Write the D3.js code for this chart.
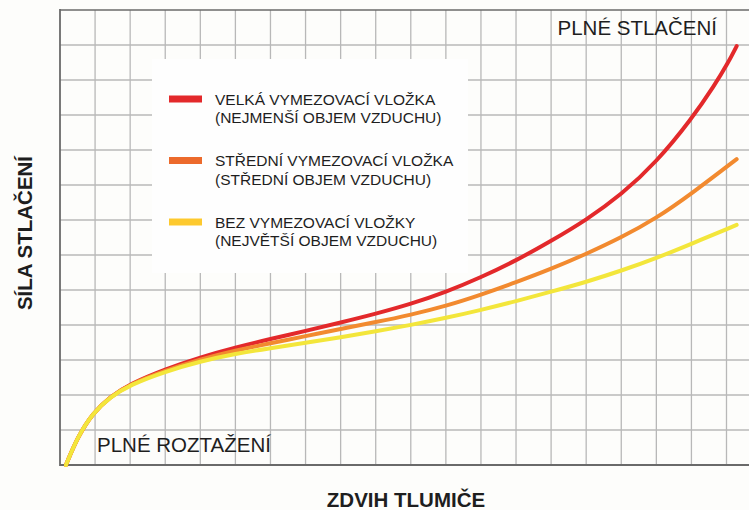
<!DOCTYPE html>
<html>
<head>
<meta charset="utf-8">
<script src="https://cdn.jsdelivr.net/npm/d3@7"></script>
<style>
  html, body { margin: 0; padding: 0; background: #fdfdfb; }
  svg { display: block; }
  text { font-family: "Liberation Sans", Arial, sans-serif; fill: #1e1e1e; }
</style>
</head>
<body>
<svg id="chart" width="749" height="510"></svg>
<script>
// ---- data (grid units: x = stroke, y = force) ----
const seriesNames = ["VELKÁ VYMEZOVACÍ VLOŽKA", "STŘEDNÍ VYMEZOVACÍ VLOŽKA", "BEZ VYMEZOVACÍ VLOŽKY"];
const seriesSubs = ["(NEJMENŠÍ OBJEM VZDUCHU)", "(STŘEDNÍ OBJEM VZDUCHU)", "(NEJVĚTŠÍ OBJEM VZDUCHU)"];

const redX    = [0.17, 0.5, 0.94, 1.43, 2, 3, 4, 5, 6, 7, 8, 9, 10, 11, 12, 13, 14, 15, 16, 17, 18, 18.66, 19.05, 19.29];
const redY    = [0, 0.8, 1.49, 1.95, 2.32, 2.74, 3.08, 3.36, 3.6, 3.83, 4.07, 4.32, 4.6, 4.94, 5.36, 5.84, 6.4, 7.0, 7.72, 8.65, 9.88, 10.85, 11.5, 11.97];

const orangeX = [0.17, 0.5, 0.94, 1.43, 2, 3, 4, 5, 6, 7, 8, 9, 10, 11, 12, 13, 14, 15, 16, 17, 18, 19.29];
const orangeY = [0, 0.8, 1.49, 1.95, 2.31, 2.7, 3.02, 3.27, 3.48, 3.68, 3.89, 4.08, 4.29, 4.54, 4.86, 5.22, 5.6, 6.03, 6.5, 7.05, 7.75, 8.74];

const yellowX = [0.17, 0.5, 0.94, 1.43, 2, 3, 4, 5, 6, 7, 8, 9, 10, 11, 12, 13, 14, 15, 16, 17, 18, 19.29];
const yellowY = [0, 0.8, 1.49, 1.94, 2.29, 2.67, 2.96, 3.18, 3.34, 3.49, 3.65, 3.82, 4.0, 4.2, 4.43, 4.68, 4.95, 5.23, 5.55, 5.91, 6.32, 6.86];

const xTicks = d3.range(0, 20);   // vertical grid lines
const yTicks = d3.range(0, 14);   // horizontal grid lines

const lineColors   = ["#e3292b", "#f28a2f", "#f3e63b"];
const swatchColors = ["#e3292b", "#ec6a2c", "#fdc92e"];

// ---- layout ----
const svg = d3.select("#chart");
const W = 749, H = 510;
const mLeft = 60, mTop = 10, mBottom = 465;

const x = d3.scaleLinear().domain([0, 19]).range([mLeft, 726.5]);
const y = d3.scaleLinear().domain([0, 13]).range([mBottom, mTop]);

svg.append("rect").attr("width", W).attr("height", H).attr("fill", "#fdfdfb");

// grid
const grid = svg.append("g");
grid.selectAll("line.v").data(xTicks.slice(1)).join("line")
  .attr("x1", d => x(d)).attr("x2", d => x(d))
  .attr("y1", mTop).attr("y2", mBottom)
  .attr("stroke", "#b8b8b8").attr("stroke-width", 1.3);
grid.selectAll("line.h").data(yTicks.slice(1, -1)).join("line")
  .attr("x1", mLeft).attr("x2", W)
  .attr("y1", d => y(d)).attr("y2", d => y(d))
  .attr("stroke", "#b8b8b8").attr("stroke-width", 1.3);

// borders (left, bottom, top)
svg.append("line").attr("x1", mLeft).attr("x2", mLeft).attr("y1", mTop - 1).attr("y2", mBottom + 1)
  .attr("stroke", "#6a6a6a").attr("stroke-width", 1.8);
svg.append("line").attr("x1", mLeft).attr("x2", W).attr("y1", mBottom).attr("y2", mBottom)
  .attr("stroke", "#6a6a6a").attr("stroke-width", 1.8);
svg.append("line").attr("x1", mLeft).attr("x2", W).attr("y1", mTop).attr("y2", mTop)
  .attr("stroke", "#6a6a6a").attr("stroke-width", 1.5);

// legend box (covers grid)
svg.append("rect").attr("x", 152).attr("y", 59).attr("width", 316).attr("height", 214).attr("fill", "#fefefe");

// curves
const series = [
  {xs: redX, ys: redY},
  {xs: orangeX, ys: orangeY},
  {xs: yellowX, ys: yellowY}
];
const line = d3.line().x(d => x(d[0])).y(d => y(d[1])).curve(d3.curveBasis);
series.forEach((s, i) => {
  const pts = s.xs.map((v, k) => [v, s.ys[k]]);
  svg.append("path").datum(pts).attr("d", line)
    .attr("fill", "none").attr("stroke", lineColors[i])
    .attr("stroke-width", 4).attr("stroke-linecap", "round").attr("stroke-linejoin", "round");
});

// legend
const lg = svg.append("g");
seriesNames.forEach((name, i) => {
  const yb = 104.5 + i * 61.5;
  lg.append("rect").attr("x", 169).attr("y", yb - 9).attr("width", 33).attr("height", 7)
    .attr("fill", swatchColors[i]);
  lg.append("text").attr("x", 215).attr("y", yb).attr("font-size", 15.5).text(name);
  lg.append("text").attr("x", 215).attr("y", yb + 18.5).attr("font-size", 15.5).text(seriesSubs[i]);
});

// annotations
svg.append("text").attr("x", 717).attr("y", 35).attr("text-anchor", "end")
  .attr("font-size", 20.5).text("PLNÉ STLAČENÍ");
svg.append("text").attr("x", 97).attr("y", 451.5)
  .attr("font-size", 20.5).text("PLNÉ ROZTAŽENÍ");

// axis titles
svg.append("text").attr("x", 406).attr("y", 507).attr("text-anchor", "middle")
  .attr("font-size", 20.5).attr("font-weight", "bold").text("ZDVIH TLUMIČE");
svg.append("text").attr("transform", "translate(32,233) rotate(-90)").attr("text-anchor", "middle")
  .attr("font-size", 20.5).attr("font-weight", "bold").text("SÍLA STLAČENÍ");
</script>
</body>
</html>
